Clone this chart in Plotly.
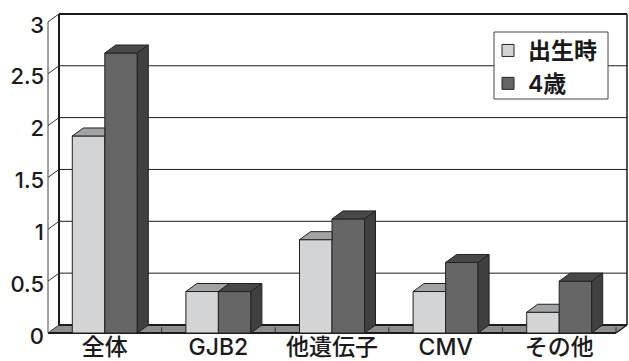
import plotly.graph_objects as go

# Chart data
categories = ["全体", "GJB2", "他遺伝子", "CMV", "その他"]
at_birth = [1.9, 0.4, 0.9, 0.4, 0.2]
age_four = [2.7, 0.4, 1.1, 0.68, 0.5]
series_names = ["出生時", "4歳"]
y_ticks = [0, 0.5, 1, 1.5, 2, 2.5, 3]
y_tick_labels = ["0", "0.5", "1", "1.5", "2", "2.5", "3"]

# Pixel scale of the plot, used to turn the pseudo-3D depth into axis units
PX_X = 113.6
PX_Y = 103.7
DX = 11 / PX_X
DY = 8 / PX_Y
GROUP = 65 / PX_X
BAR = GROUP / 2
N = len(categories)
INK = "#1c1c1c"
FONT = "Inter, Noto Sans CJK JP, sans-serif"

# Plot rectangle in pixels
LEFT, BOTTOM_MARGIN, TOP_MARGIN = 45, 24, 10
PLOT_W, PLOT_H = 629 - LEFT, 361 - BOTTOM_MARGIN - TOP_MARGIN

positions = [i + 0.5 for i in range(N)]
fig = go.Figure()

# Front faces of the columns
for name, values, colour, off in [
    (series_names[0], at_birth, "#d3d4d6", -BAR),
    (series_names[1], age_four, "#666666", 0),
]:
    fig.add_bar(
        x=positions, y=values, name=name, width=BAR, offset=off,
        marker=dict(color=colour, line=dict(color="#222222", width=1)),
        hoverinfo="skip",
    )


def face(xs, ys, colour):
    fig.add_scatter(
        x=xs, y=ys, mode="lines", fill="toself", fillcolor=colour,
        line=dict(color="#222222", width=1), showlegend=False, hoverinfo="skip",
    )


# Top and side faces: lighter series first so the darker one sits over it
for c, v, w in zip(positions, at_birth, age_four):
    x0, x1 = c - BAR, c
    end = x1 if w > v else x1 + DX
    face([x0, x0 + DX, end, x1, x0], [v, v + DY, v + DY, v, v], "#a2a3a5")
for c, v in zip(positions, age_four):
    x0, x1 = c, c + BAR
    face([x0, x0 + DX, x1 + DX, x1, x0], [v, v + DY, v + DY, v, v], "#484848")
    face([x1, x1 + DX, x1 + DX, x1, x1], [0, DY, v + DY, v, 0], "#404040")


def seg(x0, y0, x1, y1, width=1.0, colour=INK):
    return dict(type="line", xref="x", yref="y", layer="below", x0=x0, y0=y0, x1=x1, y1=y1,
                line=dict(color=colour, width=width))


shapes = [
    # floor
    dict(type="path", xref="x", yref="y", layer="below",
         path=f"M0,0 L{N},0 L{N + DX},{DY} L{DX},{DY} Z",
         fillcolor="#8e8e8e", line=dict(width=0)),
    seg(DX, DY, N + DX, DY, 2),
    seg(0, 0, N, 0, 2),
    seg(N, 0, N + DX, DY, 1.5),
    # walls
    seg(0, 0, 0, 3, 1, "#444444"),
    seg(DX, DY, DX, 3 + DY, 2),
    seg(N + DX, DY, N + DX, 3 + DY, 1.5),
]
for t in y_ticks:
    shapes.append(seg(0, t, DX, t + DY, 1, "#333333"))
    shapes.append(seg(DX, t + DY, N + DX, t + DY, 2 if t == 3 else 1))
for i in range(1, N + 1):
    shapes.append(seg(i, 0, i, 0.055, 1, "#333333"))

# Legend panel behind the transparent native legend
shapes.append(dict(
    type="rect", xref="paper", yref="paper", layer="above",
    x0=(494 - LEFT) / PLOT_W, x1=(608 - LEFT) / PLOT_W,
    y0=(337 - 99) / PLOT_H, y1=(337 - 32) / PLOT_H,
    fillcolor="white", line=dict(color="#444444", width=1),
))

fig.update_layout(
    width=629, height=361, autosize=False,
    margin=dict(l=LEFT, r=0, t=TOP_MARGIN, b=BOTTOM_MARGIN, pad=0),
    paper_bgcolor="white", plot_bgcolor="white",
    barmode="overlay",
    shapes=shapes,
    font=dict(family=FONT, color="#1a1a1a"),
    xaxis=dict(
        automargin=False,
        range=[-3 / PX_X, 581 / PX_X], showgrid=False, zeroline=False, showline=False,
        tickmode="array", tickvals=positions, ticktext=categories,
        tickfont=dict(size=23, family=FONT, weight=500), ticks="", ticklabelstandoff=-6,
    ),
    yaxis=dict(
        automargin=False,
        range=[-4 / PX_Y, 323 / PX_Y], showgrid=False, zeroline=False, showline=False,
        tickmode="array", tickvals=y_ticks, ticktext=y_tick_labels,
        tickfont=dict(size=22, family=FONT, weight=500), ticks="", ticklabelshift=3,
    ),
    legend=dict(
        x=(488 - LEFT) / PLOT_W, y=(337 - 29) / PLOT_H, xanchor="left", yanchor="top",
        bgcolor="rgba(0,0,0,0)", borderwidth=0,
        font=dict(size=23, family=FONT, weight=600),
    ),
)

fig.write_html("out.html")
